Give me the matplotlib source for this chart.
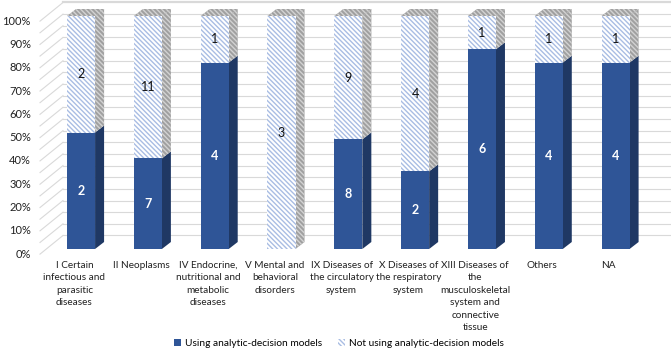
import numpy as np
import matplotlib
matplotlib.use("Agg")
import matplotlib.pyplot as plt
from matplotlib.patches import Polygon, Patch

plt.rcParams['font.family'] = ['Lato', 'DejaVu Sans']
plt.rcParams['hatch.linewidth'] = 1.0

# data
categories = ["I Certain\ninfectious and\nparasitic\ndiseases",
              "II Neoplasms",
              "IV Endocrine,\nnutritional and\nmetabolic\ndiseases",
              "V Mental and\nbehavioral\ndisorders",
              "IX Diseases of\nthe circulatory\nsystem",
              "X Diseases of\nthe respiratory\nsystem",
              "XIII Diseases of\nthe\nmusculoskeletal\nsystem and\nconnective\ntissue",
              "Others",
              "NA"]
using = np.array([2, 7, 4, 0, 8, 2, 6, 4, 4])
not_using = np.array([2, 11, 1, 3, 9, 4, 1, 1, 1])
series_names = ["Using analytic-decision models", "Not using analytic-decision models"]
yticks = np.arange(0, 1.01, 0.1)

total = using + not_using
p_use = using / total
p_not = not_using / total

blue = '#2f5597'
blue_side = '#1f3864'
hatch_blue = '#a9bde3'
gray = '#a0a0a0'
gray_hatch = '#d2d2d2'
grid_c = '#d9d9d9'
hatch = '\\' * 7

w = 0.42      # bar width
dx, dy = 0.135, 0.030   # bar depth
wall_x0, wall_x1 = -0.614, -0.27
wall_y0, wall_y1 = -0.022, 0.058

fig = plt.figure(figsize=(6.71, 3.53), dpi=100)
ax = fig.add_axes([37/671, (353-262)/353, 634/671, 262/353])
ax.set_xlim(-0.659, 8.83)
ax.set_ylim(-0.0558, 1.0687)
ax.axis('off')

# walls / gridlines
for g in np.arange(0, 1.001, 0.05):
    lw = 1.6 if g > 0.99 else 0.8
    ax.plot([wall_x1, 8.83], [g + wall_y1, g + wall_y1], color=grid_c, lw=lw, zorder=0)
    ax.plot([wall_x0, wall_x1], [g + wall_y0, g + wall_y1], color=grid_c, lw=0.8, zorder=0)

for t in yticks:
    ax.text(-0.75, t + wall_y0, f"{t*100:.0f}%", ha='right', va='center',
            fontsize=8, color='#222222', clip_on=False)

x = np.arange(len(categories))
ax.bar(x, p_use, width=w, color=blue, lw=0, zorder=3)
ax.bar(x, p_not, bottom=p_use, width=w, color='white', edgecolor=hatch_blue,
       hatch=hatch, lw=0, zorder=3)

for i in x:
    xr = i + w / 2
    y0, y1 = 0, p_use[i]
    if p_use[i] > 0:
        ax.add_patch(Polygon([(xr, y0), (xr + dx, y0 + dy), (xr + dx, y1 + dy), (xr, y1)],
                             closed=True, facecolor=blue_side, lw=0, zorder=2))
    ax.add_patch(Polygon([(xr, y1), (xr + dx, y1 + dy), (xr + dx, 1 + dy), (xr, 1)],
                         closed=True, facecolor=gray, edgecolor=gray_hatch,
                         hatch=hatch, lw=0, zorder=2))
    xl = i - w / 2
    ax.add_patch(Polygon([(xl, 1), (xr, 1), (xr + dx, 1 + dy), (xl + dx, 1 + dy)],
                         closed=True, facecolor=gray, edgecolor=gray_hatch,
                         hatch=hatch, lw=0, zorder=2))
    if using[i] > 0:
        ax.text(i, p_use[i] / 2, str(using[i]), ha='center', va='center',
                color='white', fontsize=9, fontweight='bold', zorder=5)
    ax.text(i, p_use[i] + p_not[i] / 2, str(not_using[i]), ha='center', va='center',
            color='#111111', fontsize=9, zorder=5)
    ax.text(i - 0.1, -0.052, categories[i], ha='center', va='top', fontsize=7.2,
            linespacing=1.48, color='#222222', clip_on=False)

handles = [Patch(facecolor=blue, lw=0),
           Patch(facecolor='white', edgecolor=hatch_blue, hatch=hatch, lw=0)]
fig.legend(handles, series_names, loc='center', bbox_to_anchor=(0.505, 0.026),
           ncol=2, frameon=False, fontsize=7.3, handlelength=0.7, handleheight=0.7,
           handletextpad=0.4, columnspacing=1.5)

fig.savefig('out.png', dpi=100)
